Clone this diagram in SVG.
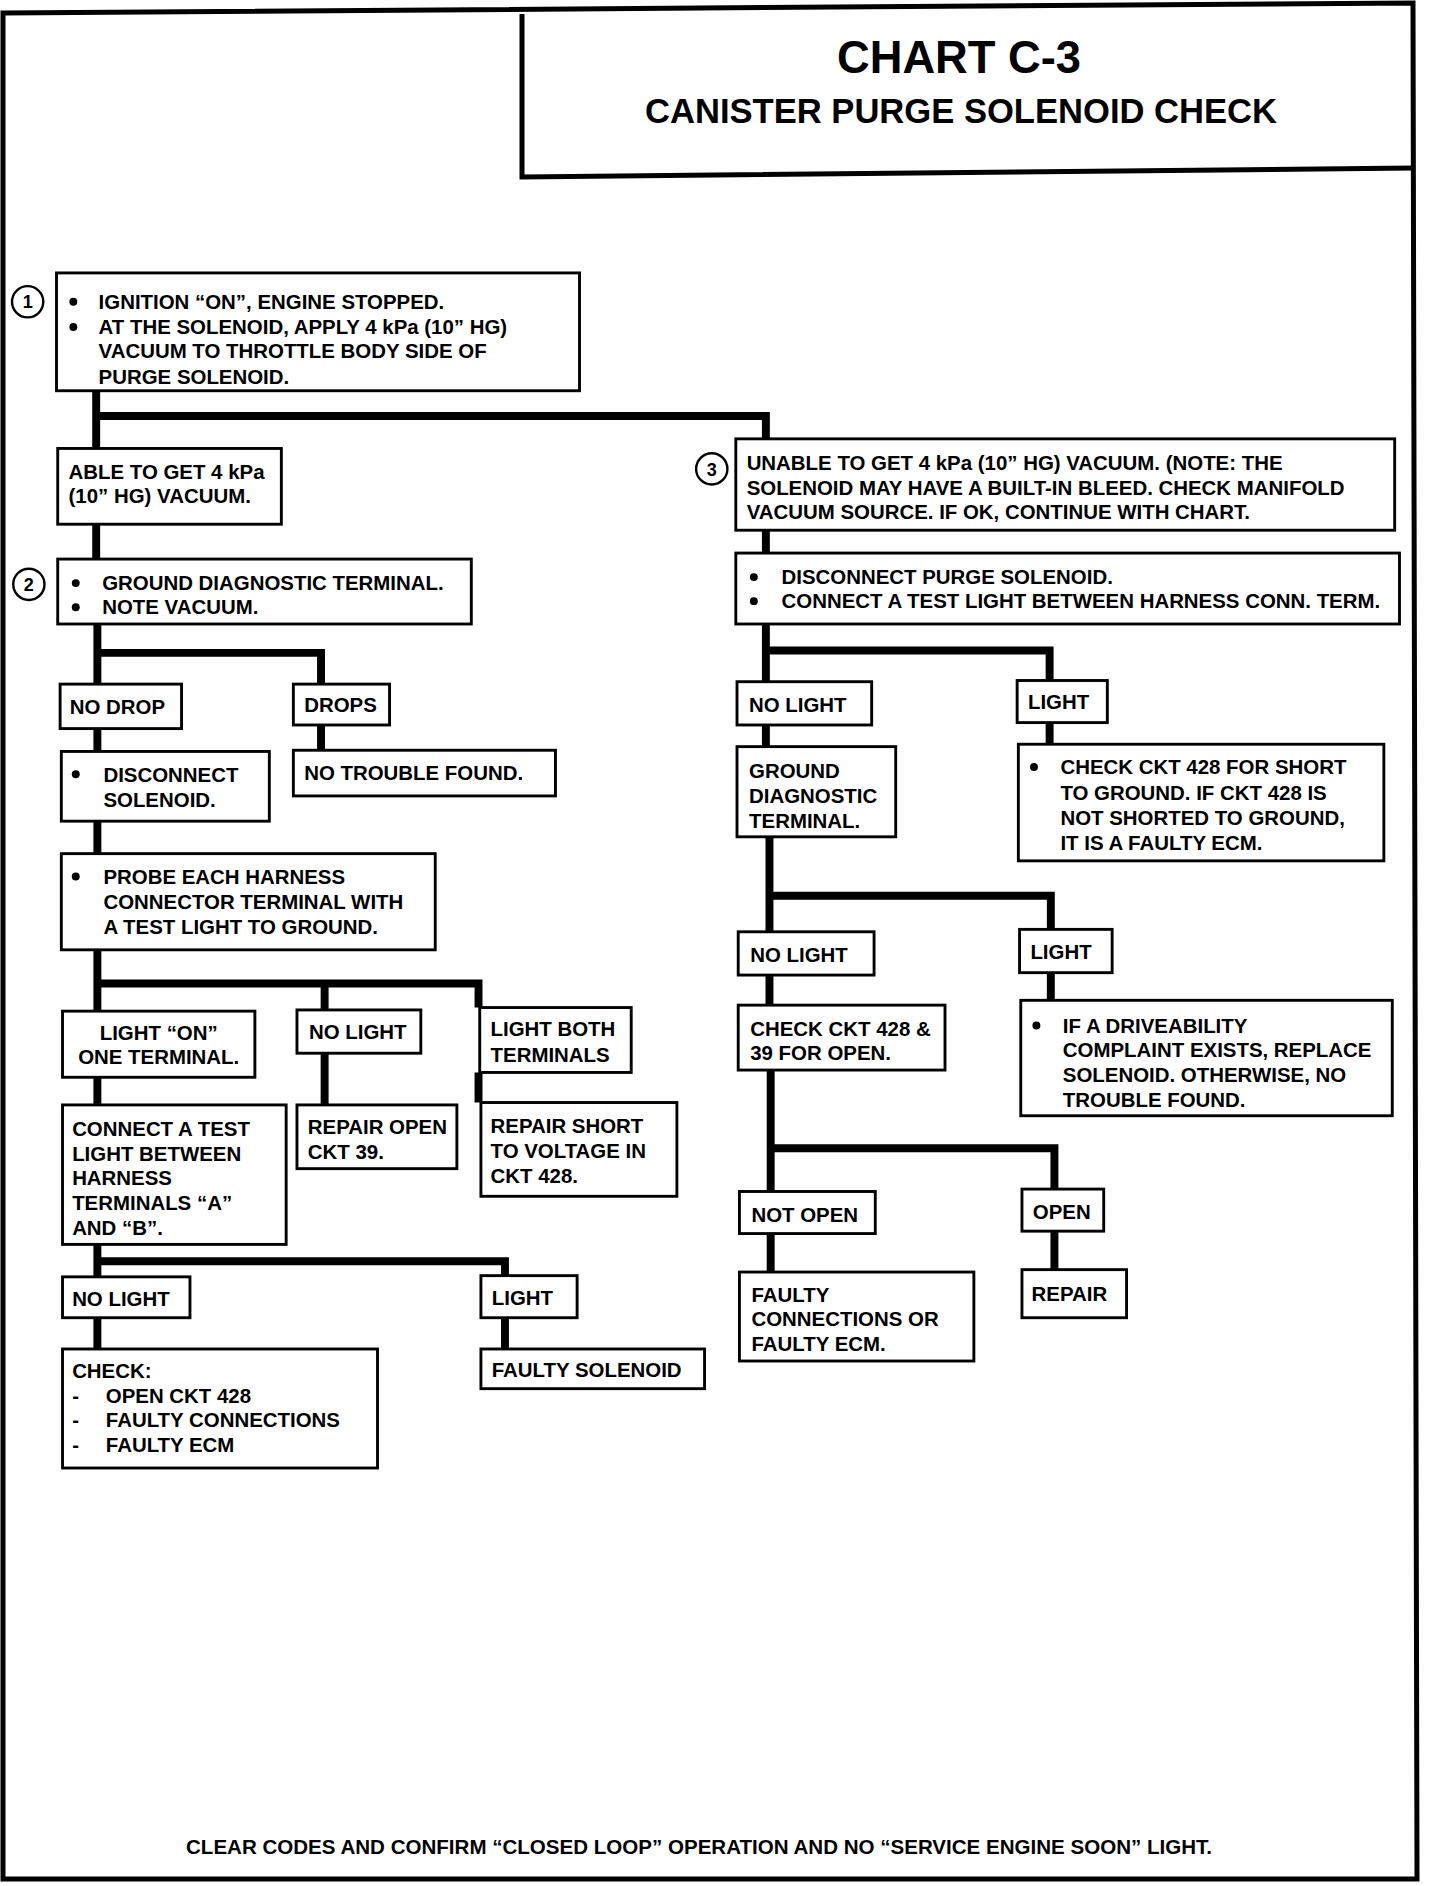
<svg xmlns="http://www.w3.org/2000/svg" width="1456" height="1886" viewBox="0 0 1456 1886">
<style>
.frame{fill:none;stroke:#000;stroke-width:5;stroke-linejoin:miter}
.box{fill:#fff;stroke:#000;stroke-width:2.4}
.t{font-family:"Liberation Sans",Arial,sans-serif;font-weight:bold;font-size:17px;fill:#000}
.ttl{font-family:"Liberation Sans",Arial,sans-serif;font-weight:bold;fill:#000;text-anchor:middle}
.c{fill:none;stroke:#000;stroke-width:6.6;stroke-linejoin:miter;stroke-linecap:butt}
.num{fill:#fff;stroke:#000;stroke-width:2}
.nt{font-family:"Liberation Sans",Arial,sans-serif;font-weight:bold;font-size:15px;fill:#000;text-anchor:middle}
.mid{text-anchor:middle}
</style>
<rect width="1456" height="1886" fill="#fff"/>
<g id="frame">
<path class="frame" d="M3,13 L1413,3 L1417,1879 L3,1879 Z"/>
</g>
<g id="title">
<path class="frame" d="M522,14 V177 L1414,168" stroke-width="4"/>
<text class="ttl" x="959" y="73" font-size="46" textLength="244" lengthAdjust="spacingAndGlyphs">CHART C-3</text>
<text class="ttl" x="961" y="123" font-size="35" textLength="632" lengthAdjust="spacingAndGlyphs">CANISTER PURGE SOLENOID CHECK</text>
</g>
<g transform="scale(1.20231)">
<g id="connectors">
<path class="c" d="M80,325 V373 M80,346 H637 V365"/>
<path class="c" d="M80,436 V465"/>
<path class="c" d="M81,519 V569 M81,543 H267 V569"/>
<path class="c" d="M81,606 V625"/>
<path class="c" d="M267,603 V624"/>
<path class="c" d="M81,683 V710"/>
<path class="c" d="M81,790 V841 M81,818 H398 V838 M270,818 V840"/>
<path class="c" d="M81,896 V919 M270,876 V919 M398,892 V917"/>
<path class="c" d="M81,1035 V1062 M81,1049 H420 V1061"/>
<path class="c" d="M81,1096 V1122 M420,1096 V1122"/>
<path class="c" d="M637,441 V460"/>
<path class="c" d="M637,519 V567 M637,541 H873 V566"/>
<path class="c" d="M637,603 V621 M873,601 V619"/>
<path class="c" d="M640,696 V775 M640,745 H874 V773"/>
<path class="c" d="M640,811 V836 M874,809 V832"/>
<path class="c" d="M641,890 V991 M641,955 H877 V989"/>
<path class="c" d="M641,1026 V1058 M877,1024 V1056"/>
</g>
<g id="step1">
<circle class="num" cx="23" cy="251" r="13"/>
<text class="nt" x="23" y="256.5">1</text>
<rect class="box" x="47" y="227" width="435" height="98"/>
<circle cx="61" cy="251" r="3.3"/><circle cx="61" cy="272" r="3.3"/>
<text class="t" x="82" y="257">IGNITION “ON”, ENGINE STOPPED.</text>
<text class="t" x="82" y="278">AT THE SOLENOID, APPLY 4 kPa (10” HG)</text>
<text class="t" x="82" y="298">VACUUM TO THROTTLE BODY SIDE OF</text>
<text class="t" x="82" y="319">PURGE SOLENOID.</text>
</g>
<g id="able">
<rect class="box" x="48" y="373" width="186" height="63"/>
<text class="t" x="57" y="398">ABLE TO GET 4 kPa</text>
<text class="t" x="57" y="418">(10” HG) VACUUM.</text>
</g>
<g id="step2">
<circle class="num" cx="24" cy="486" r="13"/>
<text class="nt" x="24" y="491.5">2</text>
<rect class="box" x="48" y="465" width="344" height="54"/>
<circle cx="63" cy="485" r="3.3"/><circle cx="63" cy="505" r="3.3"/>
<text class="t" x="85" y="491">GROUND DIAGNOSTIC TERMINAL.</text>
<text class="t" x="85" y="511">NOTE VACUUM.</text>
</g>
<g id="nodrop">
<rect class="box" x="50" y="569" width="101" height="37"/>
<text class="t" x="58" y="594">NO DROP</text>
</g>
<g id="drops">
<rect class="box" x="244" y="569" width="80" height="34"/>
<text class="t" x="253" y="592">DROPS</text>
</g>
<g id="disconnect-solenoid">
<rect class="box" x="51" y="625" width="173" height="58"/>
<circle cx="63" cy="644" r="3.3"/>
<text class="t" x="86" y="650">DISCONNECT</text>
<text class="t" x="86" y="671">SOLENOID.</text>
</g>
<g id="no-trouble">
<rect class="box" x="244" y="624" width="218" height="38"/>
<text class="t" x="253" y="649">NO TROUBLE FOUND.</text>
</g>
<g id="probe">
<rect class="box" x="51" y="710" width="311" height="80"/>
<circle cx="63" cy="729" r="3.3"/>
<text class="t" x="86" y="735">PROBE EACH HARNESS</text>
<text class="t" x="86" y="756">CONNECTOR TERMINAL WITH</text>
<text class="t" x="86" y="777">A TEST LIGHT TO GROUND.</text>
</g>
<g id="light-on">
<rect class="box" x="52" y="841" width="160" height="55"/>
<text class="t mid" x="132" y="865">LIGHT “ON”</text>
<text class="t mid" x="132" y="885">ONE TERMINAL.</text>
</g>
<g id="nolight-a">
<rect class="box" x="247" y="840" width="103" height="36"/>
<text class="t" x="257" y="864">NO LIGHT</text>
</g>
<g id="light-both">
<rect class="box" x="399" y="838" width="126" height="54"/>
<text class="t" x="408" y="862">LIGHT BOTH</text>
<text class="t" x="408" y="883">TERMINALS</text>
</g>
<g id="connect-test">
<rect class="box" x="52" y="919" width="186" height="116"/>
<text class="t" x="60" y="945">CONNECT A TEST</text>
<text class="t" x="60" y="966">LIGHT BETWEEN</text>
<text class="t" x="60" y="986">HARNESS</text>
<text class="t" x="60" y="1006">TERMINALS “A”</text>
<text class="t" x="60" y="1027">AND “B”.</text>
</g>
<g id="repair-open">
<rect class="box" x="247" y="919" width="133" height="53"/>
<text class="t" x="256" y="943">REPAIR OPEN</text>
<text class="t" x="256" y="964">CKT 39.</text>
</g>
<g id="repair-short">
<rect class="box" x="400" y="917" width="163" height="78"/>
<text class="t" x="408" y="942">REPAIR SHORT</text>
<text class="t" x="408" y="963">TO VOLTAGE IN</text>
<text class="t" x="408" y="984">CKT 428.</text>
</g>
<g id="nolight-b">
<rect class="box" x="52" y="1062" width="106" height="34"/>
<text class="t" x="60" y="1086">NO LIGHT</text>
</g>
<g id="light-b">
<rect class="box" x="400" y="1061" width="80" height="35"/>
<text class="t" x="409" y="1085">LIGHT</text>
</g>
<g id="check-list">
<rect class="box" x="52" y="1122" width="262" height="99"/>
<text class="t" x="60" y="1146">CHECK:</text>
<text class="t" x="60" y="1167">-</text><text class="t" x="88" y="1167">OPEN CKT 428</text>
<text class="t" x="60" y="1187">-</text><text class="t" x="88" y="1187">FAULTY CONNECTIONS</text>
<text class="t" x="60" y="1208">-</text><text class="t" x="88" y="1208">FAULTY ECM</text>
</g>
<g id="faulty-solenoid">
<rect class="box" x="400" y="1122" width="186" height="33"/>
<text class="t" x="409" y="1145">FAULTY SOLENOID</text>
</g>
<g id="step3">
<circle class="num" cx="592" cy="390" r="13"/>
<text class="nt" x="592" y="395.5">3</text>
<rect class="box" x="612" y="365" width="548" height="76"/>
<text class="t" x="621" y="391">UNABLE TO GET 4 kPa (10” HG) VACUUM. (NOTE: THE</text>
<text class="t" x="621" y="412">SOLENOID MAY HAVE A BUILT-IN BLEED. CHECK MANIFOLD</text>
<text class="t" x="621" y="432">VACUUM SOURCE. IF OK, CONTINUE WITH CHART.</text>
</g>
<g id="disconnect-purge">
<rect class="box" x="612" y="460" width="552" height="59"/>
<circle cx="627" cy="480" r="3.3"/><circle cx="627" cy="500" r="3.3"/>
<text class="t" x="650" y="486">DISCONNECT PURGE SOLENOID.</text>
<text class="t" x="650" y="506">CONNECT A TEST LIGHT BETWEEN HARNESS CONN. TERM.</text>
</g>
<g id="nolight-r1">
<rect class="box" x="613" y="567" width="112" height="36"/>
<text class="t" x="623" y="592">NO LIGHT</text>
</g>
<g id="light-r1">
<rect class="box" x="846" y="566" width="75" height="35"/>
<text class="t" x="855" y="590">LIGHT</text>
</g>
<g id="ground-diag">
<rect class="box" x="613" y="621" width="132" height="75"/>
<text class="t" x="623" y="647">GROUND</text>
<text class="t" x="623" y="668">DIAGNOSTIC</text>
<text class="t" x="623" y="689">TERMINAL.</text>
</g>
<g id="check-short">
<rect class="box" x="847" y="619" width="304" height="97"/>
<circle cx="860" cy="638" r="3.3"/>
<text class="t" x="882" y="644">CHECK CKT 428 FOR SHORT</text>
<text class="t" x="882" y="665">TO GROUND. IF CKT 428 IS</text>
<text class="t" x="882" y="686">NOT SHORTED TO GROUND,</text>
<text class="t" x="882" y="707">IT IS A FAULTY ECM.</text>
</g>
<g id="nolight-r2">
<rect class="box" x="614" y="775" width="113" height="36"/>
<text class="t" x="624" y="800">NO LIGHT</text>
</g>
<g id="light-r2">
<rect class="box" x="848" y="773" width="77" height="36"/>
<text class="t" x="857" y="798">LIGHT</text>
</g>
<g id="check-open">
<rect class="box" x="614" y="836" width="172" height="54"/>
<text class="t" x="624" y="862">CHECK CKT 428 &amp;</text>
<text class="t" x="624" y="882">39 FOR OPEN.</text>
</g>
<g id="driveability">
<rect class="box" x="849" y="832" width="309" height="96"/>
<circle cx="862" cy="853" r="3.3"/>
<text class="t" x="884" y="859">IF A DRIVEABILITY</text>
<text class="t" x="884" y="879">COMPLAINT EXISTS, REPLACE</text>
<text class="t" x="884" y="900">SOLENOID. OTHERWISE, NO</text>
<text class="t" x="884" y="921">TROUBLE FOUND.</text>
</g>
<g id="not-open">
<rect class="box" x="615" y="991" width="113" height="35"/>
<text class="t" x="625" y="1016">NOT OPEN</text>
</g>
<g id="open">
<rect class="box" x="850" y="989" width="68" height="35"/>
<text class="t" x="859" y="1014">OPEN</text>
</g>
<g id="faulty-conn">
<rect class="box" x="615" y="1058" width="195" height="74"/>
<text class="t" x="625" y="1083">FAULTY</text>
<text class="t" x="625" y="1103">CONNECTIONS OR</text>
<text class="t" x="625" y="1124">FAULTY ECM.</text>
</g>
<g id="repair">
<rect class="box" x="850" y="1056" width="87" height="40"/>
<text class="t" x="858" y="1082">REPAIR</text>
</g>
</g>
<g id="footer">
<text class="ttl" x="699" y="1854" font-size="20.5" textLength="1026" lengthAdjust="spacingAndGlyphs">CLEAR CODES AND CONFIRM “CLOSED LOOP” OPERATION AND NO “SERVICE ENGINE SOON” LIGHT.</text>
</g>
</svg>
